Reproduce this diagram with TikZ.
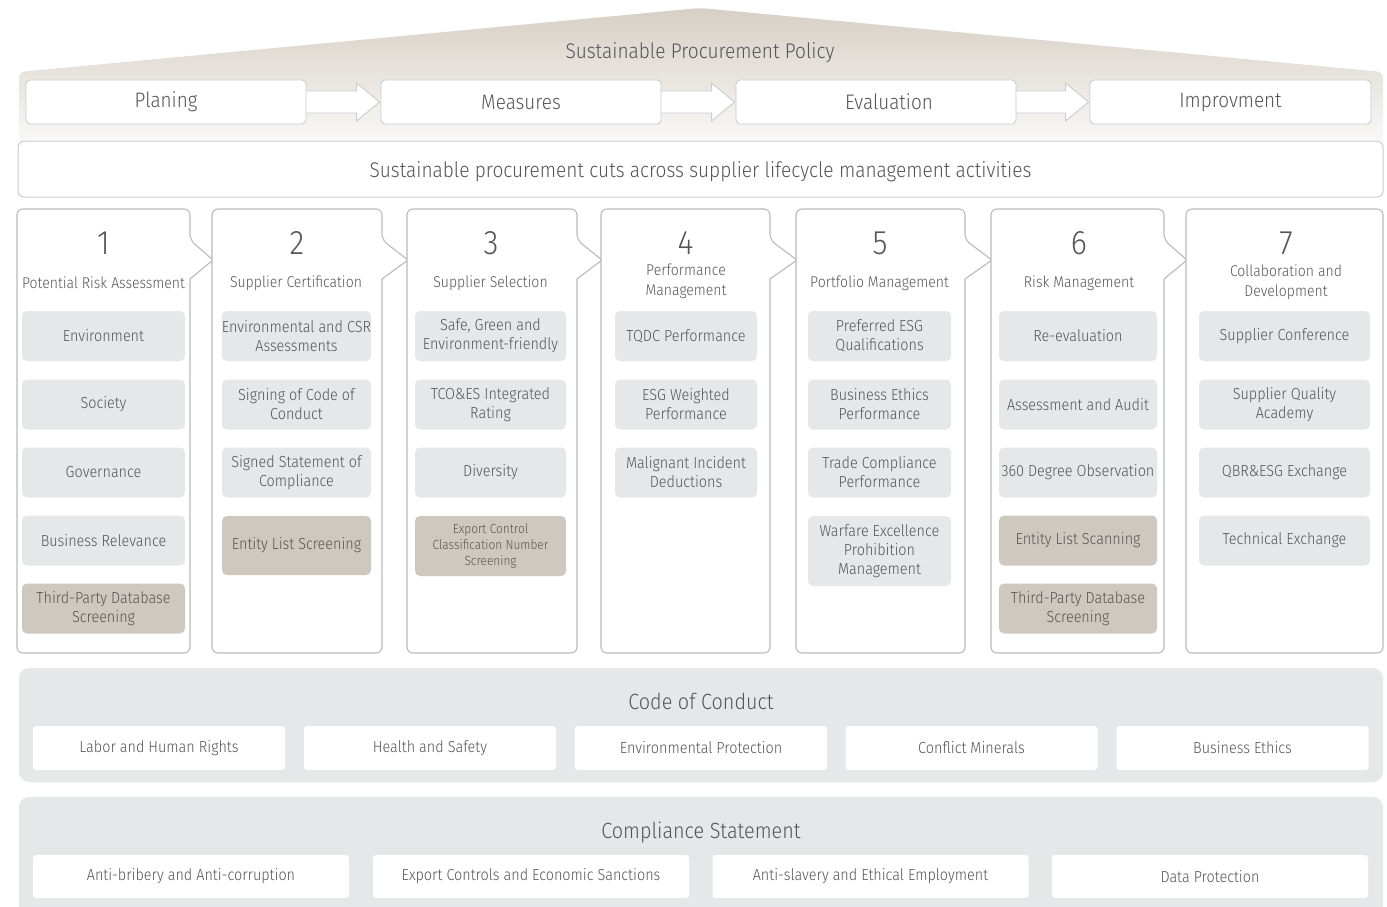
\documentclass[tikz,border=0pt]{standalone}
\usepackage{fontspec}
\setmainfont{Fira Sans Light}[FakeStretch=0.9]
\usetikzlibrary{calc}
\definecolor{txt}{HTML}{555555}
\definecolor{gbox}{HTML}{E6E7E9}
\definecolor{bbox}{HTML}{CFC8BE}
\definecolor{bline}{HTML}{BBBBBB}
\definecolor{tline}{HTML}{CCCCCC}
\definecolor{rooftop}{HTML}{D6CFC4}
\definecolor{roofbot}{HTML}{F9F8F6}
\newcommand\fsz[2]{\fontsize{#1}{#2}\selectfont}
\begin{document}
\begin{tikzpicture}[x=1pt,y=-1pt,
  every node/.style={text=txt},
  topbox/.style={draw=tline, line width=0.9pt, fill=white, rounded corners=4, minimum height=44, inner sep=0, font=\fsz{21}{25}},
  blockarrow/.style={draw=tline, line width=0.9pt, fill=white},
  colline/.style={draw=bline, line width=1.1pt, fill=white},
  item/.style={fill=gbox, rounded corners=5, inner sep=0, align=center, font=\fsz{16}{19}},
  bitem/.style={item, fill=bbox},
  num/.style={font=\fsz{34}{36}},
  sub/.style={align=center, font=\fsz{15.6}{20}},
  panel/.style={fill=gbox, rounded corners=10},
  wbox/.style={fill=white, rounded corners=3, inner sep=0, font=\fsz{16}{18}},
  ptitle/.style={font=\fsz{22}{26}}
]
\clip (0,0) rectangle (1387,907);
\fill[white] (0,0) rectangle (1387,907);

% roof
\shade[top color=rooftop, bottom color=roofbot] (19,140) [rounded corners=6] -- (19,72) -- (700,8) -- (1383,72) [sharp corners] -- (1383,140) -- cycle;
\node[font=\fsz{21.2}{25}] (policy) at (700,52.5) {Sustainable Procurement Policy};

% top process boxes
\coordinate (p1c) at (166,102);
\coordinate (p2c) at (521,102);
\coordinate (p3c) at (876,102);
\coordinate (p4c) at (1230.5,102);
\node[topbox, minimum width=280, draw=none, fill=none] (p1) at (p1c) {};
\node[topbox, minimum width=280, draw=none, fill=none] (p2) at (p2c) {};
\node[topbox, minimum width=280, draw=none, fill=none] (p3) at (p3c) {};
\node[topbox, minimum width=281, draw=none, fill=none] (p4) at (p4c) {};
\foreach \a/\b in {p1/p2,p2/p3,p3/p4}{
  \draw[blockarrow] ($(\a.east)+(-5,-11)$) -- ($(\b.west)+(-24,-11)$) -- ($(\b.west)+(-24,-19)$) -- ($(\b.west)+(-1,0)$) -- ($(\b.west)+(-24,19)$) -- ($(\b.west)+(-24,11)$) -- ($(\a.east)+(-5,11)$);
}
\node[topbox, minimum width=280] (q1) at (p1c) {Planing};
\node[topbox, minimum width=280] (q2) at (p2c) {Measures};
\node[topbox, minimum width=280] (q3) at (p3c) {};
\node[font=\fsz{21}{25}] (q3t) at ($(q3.center)+(13,0)$) {Evaluation};
\node[topbox, minimum width=281] (q4) at (p4c) {Improvment};

% banner
\node[draw=tline, line width=1pt, fill=white, rounded corners=6, minimum width=1365, minimum height=56, inner sep=0] (banner) at (700.5,169) {};
\node[font=\fsz{21.2}{25}] (bannertext) at (700.5,172) {Sustainable procurement cuts across supplier lifecycle management activities};

% columns
\foreach \L/\R/\N in {17/190/212, 212/382/407, 407/577/601, 601/770/796, 796/965/991, 991/1164/1186}{
  \draw[colline] (\L,400) [rounded corners=6] -- (\L,209) -- (\R,209) -- (\R,240) [sharp corners] -- (\N+1,260) -- (\R,279) [rounded corners=6] -- (\R,653) -- (\L,653) -- cycle;
}
\draw[colline, rounded corners=6] (1186,209) rectangle (1383,653);

% column headings
\node[num] (n1) at (103.5,243) {1};
\node[num] (n2) at (297,243) {2};
\node[num] (n3) at (491,243) {3};
\node[num] (n4) at (685.5,243) {4};
\node[num] (n5) at (880,243) {5};
\node[num] (n6) at (1079,243) {6};
\node[num] (n7) at (1286,243) {7};
\node[sub] (s1) at (103.5,283) {Potential Risk Assessment};
\node[sub] (s2) at (296,283) {Supplier Certification};
\node[sub] (s3) at (490.5,283) {Supplier Selection};
\node[sub] (s4) at (686,281) {Performance\\Management};
\node[sub] (s5) at (879.5,283) {Portfolio Management};
\node[sub] (s6) at (1079,283) {Risk Management};
\node[sub] (s7) at (1286,282) {Collaboration and\\Development};

% column 1
\begin{scope}[every node/.append style={minimum width=163}]
\node[item, minimum height=50] (c1a) at (103.5,336) {Environment};
\node[item, minimum height=50] (c1b) at (103.5,404.5) {Society};
\node[item, minimum height=50] (c1c) at (103.5,472.5) {Governance};
\node[item, minimum height=50] (c1d) at (103.5,540.5) {Business Relevance};
\node[bitem, minimum height=50] (c1e) at (103.5,608.5) {Third-Party Database\\Screening};
\end{scope}
% column 2
\begin{scope}[every node/.append style={minimum width=149}]
\node[item, minimum height=50] (c2a) at (296.5,336) {Environmental and CSR\\Assessments};
\node[item, minimum height=50] (c2b) at (296.5,404.5) {Signing of Code of\\Conduct};
\node[item, minimum height=50] (c2c) at (296.5,472.5) {Signed Statement of\\Compliance};
\node[bitem, minimum height=59] (c2d) at (296.5,545.5) {Entity List Screening};
\end{scope}
% column 3
\begin{scope}[every node/.append style={minimum width=151}]
\node[item, minimum height=50] (c3a) at (490.5,336) {Safe, Green and\\Environment-friendly};
\node[item, minimum height=50] (c3b) at (490.5,404.5) {TCO\&ES Integrated\\Rating};
\node[item, minimum height=50] (c3c) at (490.5,472.5) {Diversity};
\node[bitem, minimum height=60, font=\fsz{13.2}{16}] (c3d) at (490.5,546) {Export Control\\Classification Number\\Screening};
\end{scope}
% column 4
\begin{scope}[every node/.append style={minimum width=142}]
\node[item, minimum height=50] (c4a) at (686,336) {TQDC Performance};
\node[item, minimum height=50] (c4b) at (686,404.5) {ESG Weighted\\Performance};
\node[item, minimum height=50] (c4c) at (686,472.5) {Malignant Incident\\Deductions};
\end{scope}
% column 5
\begin{scope}[every node/.append style={minimum width=143}]
\node[item, minimum height=50] (c5a) at (879.5,336) {Preferred ESG\\Qualifications};
\node[item, minimum height=50] (c5b) at (879.5,404.5) {Business Ethics\\Performance};
\node[item, minimum height=50] (c5c) at (879.5,472.5) {Trade Compliance\\Performance};
\node[item, minimum height=70] (c5d) at (879.5,551) {Warfare Excellence\\Prohibition\\Management};
\end{scope}
% column 6
\begin{scope}[every node/.append style={minimum width=158}]
\node[item, minimum height=50] (c6a) at (1078,336) {Re-evaluation};
\node[item, minimum height=50] (c6b) at (1078,404.5) {Assessment and Audit};
\node[item, minimum height=50] (c6c) at (1078,472.5) {360 Degree Observation};
\node[bitem, minimum height=50] (c6d) at (1078,540.5) {Entity List Scanning};
\node[bitem, minimum height=50] (c6e) at (1078,608.5) {Third-Party Database\\Screening};
\end{scope}
% column 7
\begin{scope}[every node/.append style={minimum width=171}]
\node[item, minimum height=50] (c7a) at (1284.5,336) {Supplier Conference};
\node[item, minimum height=50] (c7b) at (1284.5,404.5) {Supplier Quality\\Academy};
\node[item, minimum height=50] (c7c) at (1284.5,472.5) {QBR\&ESG Exchange};
\node[item, minimum height=50] (c7d) at (1284.5,540.5) {Technical Exchange};
\end{scope}

% code of conduct
\fill[panel] (19,668) rectangle (1383,782);
\node[ptitle] (coc) at (701,701) {Code of Conduct};
\begin{scope}[every node/.append style={minimum width=252, minimum height=44}]
\node[wbox] (k1) at (159,748) {Labor and Human Rights};
\node[wbox] (k2) at (430,748) {Health and Safety};
\node[wbox] (k3) at (701,748) {Environmental Protection};
\node[wbox] (k4) at (971.5,748) {Conflict Minerals};
\node[wbox] (k5) at (1242.5,748) {Business Ethics};
\end{scope}

% compliance statement
\fill[panel] (19,797) rectangle (1383,940);
\node[ptitle] (cs) at (701,832.5) {Compliance Statement};
\begin{scope}[every node/.append style={minimum width=316, minimum height=43}]
\node[wbox] (m1) at (191,876.5) {Anti-bribery and Anti-corruption};
\node[wbox] (m2) at (531,876.5) {Export Controls and Economic Sanctions};
\node[wbox] (m3) at (870.5,876.5) {Anti-slavery and Ethical Employment};
\node[wbox] (m4) at (1210,876.5) {Data Protection};
\end{scope}
\end{tikzpicture}
\end{document}
